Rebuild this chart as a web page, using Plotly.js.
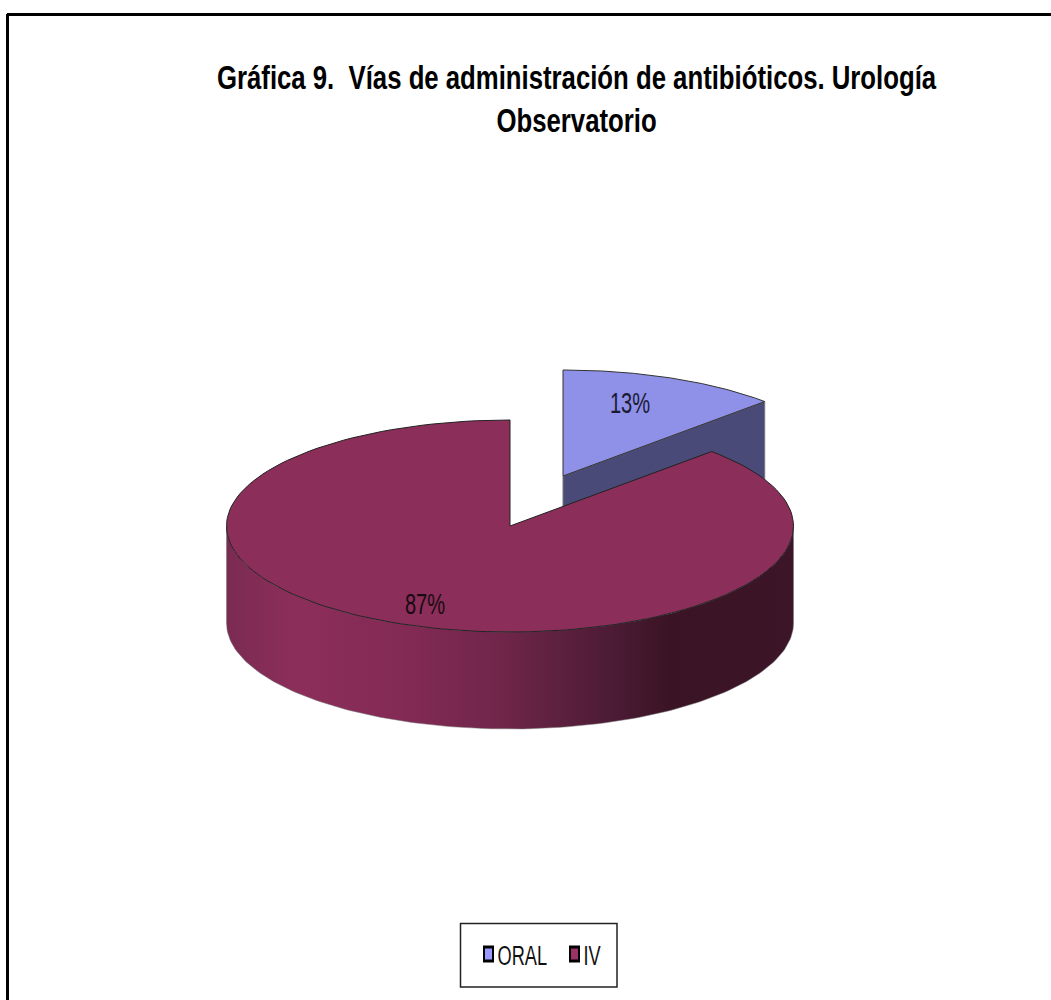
<!DOCTYPE html>
<html><head><meta charset="utf-8">
<script src="https://cdn.plot.ly/plotly-3.0.1.min.js"></script>
<style>html,body{margin:0;padding:0;background:#fff}</style>
</head><body><div id="chart" style="width:1051px;height:1000px"></div>
<script>
const categories = ["ORAL", "IV"];
const shares = [12.6, 87.4];
const labels = ["13%", "87%"];
const colors = ["#8f90e8", "#8c2e5a"];
const swatchColors = ["#9999ff", "#993366"];
const titleText = "Gráfica 9.  Vías de administración de antibióticos. Urología<br>Observatorio";

// projection of the tilted disc on the plot axes
const centre = [510, 526], rx = 283.5, ry = 106, depth = 97, explode = [53, -50];
const total = shares[0] + shares[1];
const oralEnd = shares[0] / total;
const pt = (f, c, dy = 0) => [c[0] + rx * Math.sin(2 * Math.PI * f), c[1] - ry * Math.cos(2 * Math.PI * f) + dy];
function arc(a, b, c, dy = 0, n = 140) {
  const out = [];
  for (let i = 0; i <= n; i++) out.push(pt(a + (b - a) * i / n, c, dy));
  return out;
}
function poly(points, extra) {
  return Object.assign({
    type: "scatter", mode: "lines", x: points.map(p => p[0]), y: points.map(p => p[1]),
    fill: "toself", hoverinfo: "skip", showlegend: false, line: {color: "#222", width: 1}
  }, extra || {});
}
const oralC = [centre[0] + explode[0], centre[1] + explode[1]];
const traces = [];
// ORAL cut face and outer wall
const e = pt(oralEnd, oralC);
traces.push(poly([oralC, e, [e[0], e[1] + depth], [oralC[0], oralC[1] + depth], oralC],
  {fillcolor: "#4a4a78", line: {color: "#777", width: 1}}));
// ORAL top
traces.push(poly([oralC].concat(arc(0, oralEnd, oralC), [oralC]), {fillcolor: colors[0], line: {color: "#333", width: 1}}));
// IV side wall: from the right extreme (0.25) to the left extreme (0.75), and back along the base
const wall = arc(0.25, 0.75, centre, 0).concat(arc(0.75, 0.25, centre, depth));
traces.push(poly(wall.concat([wall[0]]), {
  line: {color: "#777", width: 0.5},
  fillgradient: {type: "horizontal", colorscale: [
    [0, "#7a2b52"], [0.12, "#8c2e5a"], [0.31, "#832a55"], [0.48, "#70264a"],
    [0.68, "#4c1b35"], [0.78, "#3a1424"], [1, "#3c1628"]]}
}));
// IV top
traces.push(poly([centre].concat(arc(oralEnd, 1, centre), [centre]), {fillcolor: colors[1], line: {color: "#222", width: 1}}));
// legend entries
categories.forEach((c, i) => traces.push({
  type: "scatter", mode: "markers", x: [null], y: [null], name: c, hoverinfo: "skip",
  marker: {symbol: "square", size: 9, color: swatchColors[i], line: {color: "#000", width: 2}}
}));

const layout = {
  width: 1051, height: 1000,
  margin: {l: 0, r: 0, t: 0, b: 0},
  paper_bgcolor: "#fff", plot_bgcolor: "#fff",
  font: {family: '"Liberation Sans",Arial,sans-serif', color: "#000"},
  title: {text: titleText, x: 576.5 / 1051, xanchor: "center", y: 1 - 89.5 / 1000, yanchor: "top",
    font: {size: 33, weight: "bold", color: "#000"}},
  xaxis: {range: [0, 1051], visible: false, fixedrange: true},
  yaxis: {range: [1000, 0], visible: false, fixedrange: true},
  showlegend: true,
  legend: {orientation: "h", x: 538.5 / 1051, xanchor: "center", y: 1 - 954 / 1000, yanchor: "middle",
    bgcolor: "rgba(0,0,0,0)", borderwidth: 0, font: {size: 28, color: "#111"}, itemwidth: 30},
  shapes: [
    {type: "line", xref: "x", yref: "y", x0: 7, x1: 1051, y0: 14.5, y1: 14.5, line: {color: "#000", width: 3}},
    {type: "line", xref: "x", yref: "y", x0: 7.5, x1: 7.5, y0: 14, y1: 1000, line: {color: "#000", width: 3}},
    {type: "rect", xref: "x", yref: "y", x0: 460.5, x1: 617, y0: 923.5, y1: 987, line: {color: "#222", width: 1.5}}
  ],
  annotations: [
    {x: 630, y: 402, text: labels[0], showarrow: false, font: {size: 30, color: "#1a1a33"}},
    {x: 425, y: 603, text: labels[1], showarrow: false, font: {size: 30, color: "#1a0a12"}}
  ]
};

// The reference type is horizontally condensed: narrow each text about its centre or left edge.
function squeeze(el, sx, useLeft) {
  const b = el.getBBox();
  const ox = useLeft ? b.x : b.x + b.width / 2;
  const prev = el.getAttribute("transform") || "";
  el.setAttribute("transform", `translate(${ox},0) scale(${sx},1) translate(${-ox},0) ${prev}`);
}
const swatchX = [488.5, 574.5], swatchY = 954, textGap = 9.5;
Plotly.newPlot("chart", traces, layout, {displayModeBar: false, responsive: false}).then(gd => {
  gd.querySelectorAll(".gtitle").forEach(t => squeeze(t, 0.78));
  gd.querySelectorAll(".annotation text").forEach(t => squeeze(t, 0.67));
  gd.querySelectorAll(".legend .traces").forEach((g, i) => {
    const txt = g.querySelector("text.legendtext");
    const mark = g.querySelector(".legendpoints path");
    mark.setAttribute("transform", (mark.getAttribute("transform") || "") + " scale(1,1.55)");
    const r0 = mark.getBoundingClientRect();
    const prev = g.getAttribute("transform") || "";
    g.setAttribute("transform", `translate(${swatchX[i] - (r0.left + r0.right) / 2},${swatchY - (r0.top + r0.bottom) / 2}) ${prev}`);
    const r1 = mark.getBoundingClientRect();
    squeeze(txt, 0.65, true);
    const t1 = txt.getBoundingClientRect();
    txt.setAttribute("transform", `translate(${r1.right + textGap - 5 - t1.left},0) ${txt.getAttribute("transform")}`);
  });
});
</script></body></html>
